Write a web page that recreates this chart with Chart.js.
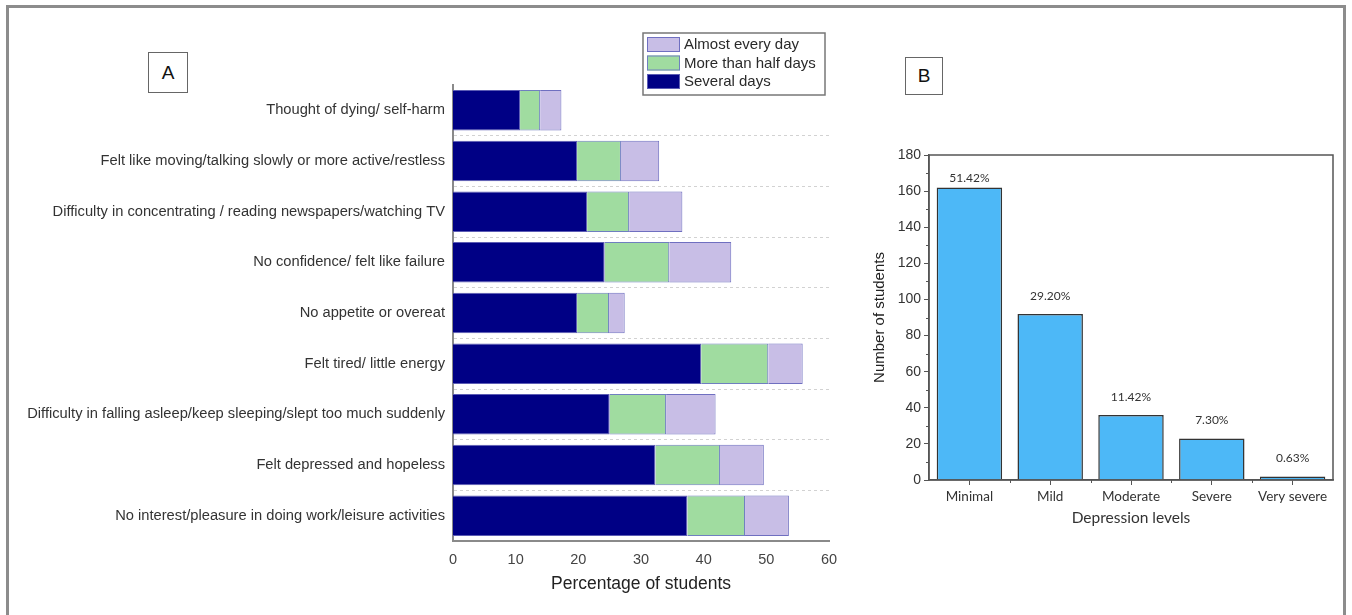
<!DOCTYPE html>
<html>
<head>
<meta charset="utf-8">
<script src="https://cdn.jsdelivr.net/npm/chart.js@4.4.1/dist/chart.umd.min.js"></script>
<style>
  html, body { margin: 0; padding: 0; background: #fff; width: 1352px; height: 615px; overflow: hidden; }
  #frame { position: absolute; left: 6px; top: 5px; width: 1340px; height: 640px; border: 3px solid #8c8c8c; box-sizing: border-box; }
  canvas { position: absolute; top: 0; }
  #chartA { left: 0; }
  #chartB { left: 850px; }
  .tag { position: absolute; box-sizing: border-box; border: 1.5px solid #666; background: #fff;
         font: 19px "Liberation Sans", Arial, sans-serif; color: #111;
         display: flex; align-items: center; justify-content: center; }
</style>
</head>
<body>
<div id="frame"></div>
<canvas id="chartA" width="850" height="615"></canvas>
<canvas id="chartB" width="500" height="615"></canvas>
<div class="tag" style="left:148px;top:52px;width:40px;height:41px;">A</div>
<div class="tag" style="left:905px;top:57px;width:38px;height:38px;">B</div>
<script>
// Panel A: PHQ-9 symptoms, percentage of students by frequency
const symptoms = [
  'Thought of dying/ self-harm',
  'Felt like moving/talking slowly or more active/restless',
  'Difficulty in concentrating / reading newspapers/watching TV',
  'No confidence/ felt like failure',
  'No appetite or overeat',
  'Felt tired/ little energy',
  'Difficulty in falling asleep/keep sleeping/slept too much suddenly',
  'Felt depressed and hopeless',
  'No interest/pleasure in doing work/leisure activities'
];
const severalDays    = [10.7, 19.8, 21.4, 24.2, 19.8, 39.6, 25.0, 32.3, 37.4];
const moreThanHalf   = [3.2, 7.0, 6.7, 10.3, 5.1, 10.7, 9.0, 10.3, 9.2];
const almostEveryDay = [3.4, 6.1, 8.5, 9.9, 2.5, 5.5, 7.9, 7.0, 7.0];
const percentTicks   = [0, 10, 20, 30, 40, 50, 60];

// Panel B: number of students at each depression level
const levels        = ['Minimal', 'Mild', 'Moderate', 'Severe', 'Very severe'];
const studentCounts = [162, 92, 36, 23, 2];
const levelShares   = ['51.42%', '29.20%', '11.42%', '7.30%', '0.63%'];
const countTicks    = [0, 20, 40, 60, 80, 100, 120, 140, 160, 180];

const ARIAL = '"Liberation Sans", Arial, sans-serif';
const CALI  = 'Lato, "Open Sans", sans-serif';

// Boxed legend, listed top-down from the last stacked series
const boxedLegend = {
  id: 'boxedLegend',
  afterDraw(chart) {
    const ctx = chart.ctx;
    const x = 643, y = 33, w = 182, h = 62;
    ctx.save();
    ctx.fillStyle = '#fff';
    ctx.fillRect(x, y, w, h);
    ctx.strokeStyle = '#777';
    ctx.lineWidth = 1.5;
    ctx.strokeRect(x, y, w, h);
    const items = chart.data.datasets.slice().reverse();
    ctx.font = '15px ' + ARIAL;
    ctx.textBaseline = 'middle';
    items.forEach((ds, i) => {
      const ry = y + 4 + i * 18.5;
      ctx.fillStyle = ds.backgroundColor;
      ctx.fillRect(x + 4, ry, 33, 15);
      ctx.strokeStyle = ds.borderColor;
      ctx.lineWidth = 1;
      ctx.strokeRect(x + 4.5, ry + 0.5, 32, 14);
      ctx.fillStyle = '#2a2a2a';
      ctx.fillText(ds.label, x + 41, ry + 8);
    });
    ctx.restore();
  }
};

new Chart(document.getElementById('chartA'), {
  type: 'bar',
  data: {
    labels: symptoms,
    datasets: [
      { label: 'Several days', data: severalDays, backgroundColor: '#000085', borderColor: '#5c5cb4', borderWidth: 1 },
      { label: 'More than half days', data: moreThanHalf, backgroundColor: '#a0dca0', borderColor: '#6f7fc0', borderWidth: 1 },
      { label: 'Almost every day', data: almostEveryDay, backgroundColor: '#c8bee6', borderColor: '#6f6fc0', borderWidth: 1 }
    ]
  },
  options: {
    indexAxis: 'y',
    responsive: false,
    animation: false,
    layout: { padding: { top: 85, right: 21, left: 0, bottom: 0 } },
    datasets: { bar: { barPercentage: 0.8, categoryPercentage: 1 } },
    plugins: { legend: { display: false }, tooltip: { enabled: false } },
    scales: {
      x: {
        stacked: true, min: 0, max: 60,
        afterBuildTicks(s) { s.ticks = percentTicks.map(v => ({ value: v })); },
        afterFit(s) { s.height = 74; },
        ticks: { color: '#444', font: { size: 14.5, family: ARIAL }, padding: 2 },
        grid: { display: false },
        border: { display: true, color: '#8a8a8a', width: 2 },
        title: { display: true, text: 'Percentage of students', color: '#222',
                 font: { size: 17.5, family: ARIAL }, padding: { top: 0, bottom: 20 } }
      },
      y: {
        stacked: true,
        afterFit(s) { s.width = 453; },
        ticks: { color: '#333', font: { size: 14.7, family: ARIAL }, padding: 8 },
        grid: { offset: true, lineWidth: 1, drawTicks: false,
                color: c => (c.index === 0 ? 'rgba(0,0,0,0)' : '#d2d2d2') },
        border: { display: true, color: '#8a8a8a', width: 2, dash: [3, 3] }
      }
    }
  },
  plugins: [boxedLegend]
});

// Frame, minor ticks and share labels for the level chart
const levelDecor = {
  id: 'levelDecor',
  afterDatasetsDraw(chart) {
    const ctx = chart.ctx;
    const meta = chart.getDatasetMeta(0);
    ctx.save();
    ctx.font = '12px ' + CALI;
    ctx.fillStyle = '#333';
    ctx.textAlign = 'center';
    ctx.textBaseline = 'middle';
    meta.data.forEach((bar, i) => {
      const y = Math.max(bar.y - 18, chart.chartArea.top + 23);
      ctx.fillText(levelShares[i], bar.x, y);
    });
    ctx.restore();
  },
  afterDraw(chart) {
    const ctx = chart.ctx;
    const a = chart.chartArea;
    const ys = chart.scales.y, xs = chart.scales.x;
    ctx.save();
    ctx.strokeStyle = '#555';
    ctx.lineWidth = 1.5;
    ctx.strokeRect(a.left, a.top, a.right - a.left, a.bottom - a.top);
    ctx.lineWidth = 1;
    ctx.beginPath();
    for (let v = 10; v < 180; v += 20) {
      const py = Math.round(ys.getPixelForValue(v)) + 0.5;
      ctx.moveTo(a.left - 3, py);
      ctx.lineTo(a.left, py);
    }
    for (let i = 0; i < levels.length - 1; i++) {
      const px = Math.round((xs.getPixelForValue(i) + xs.getPixelForValue(i + 1)) / 2) + 0.5;
      ctx.moveTo(px, a.bottom);
      ctx.lineTo(px, a.bottom + 3);
    }
    ctx.stroke();
    ctx.restore();
  }
};

new Chart(document.getElementById('chartB'), {
  type: 'bar',
  data: {
    labels: levels,
    datasets: [
      { label: 'Number of students', data: studentCounts, backgroundColor: '#4db8f7',
        borderColor: '#333', borderWidth: 1.5, barPercentage: 0.81, categoryPercentage: 1 }
    ]
  },
  options: {
    responsive: false,
    animation: false,
    layout: { padding: { top: 155, right: 17, left: 0, bottom: 0 } },
    plugins: { legend: { display: false }, tooltip: { enabled: false } },
    scales: {
      x: {
        afterFit(s) { s.height = 135; },
        ticks: { color: '#333', font: { size: 13.5, family: CALI }, padding: 4 },
        grid: { display: true, drawOnChartArea: false, offset: false, tickLength: 5, color: '#555' },
        border: { display: true, color: '#555', width: 1.5 },
        title: { display: true, text: 'Depression levels', color: '#333',
                 font: { size: 15.5, family: CALI }, padding: { top: 0, bottom: 88 } }
      },
      y: {
        min: 0, max: 180,
        afterBuildTicks(s) { s.ticks = countTicks.map(v => ({ value: v })); },
        afterFit(s) { s.width = 79; },
        ticks: { color: '#333', font: { size: 14, family: ARIAL }, padding: 3 },
        grid: { display: true, drawOnChartArea: false, tickLength: 5, color: '#555' },
        border: { display: true, color: '#555', width: 1.5 },
        title: { display: true, text: 'Number of students', color: '#222',
                 font: { size: 15, family: ARIAL }, padding: { top: 21, bottom: 0 } }
      }
    }
  },
  plugins: [levelDecor]
});
</script>
</body>
</html>
